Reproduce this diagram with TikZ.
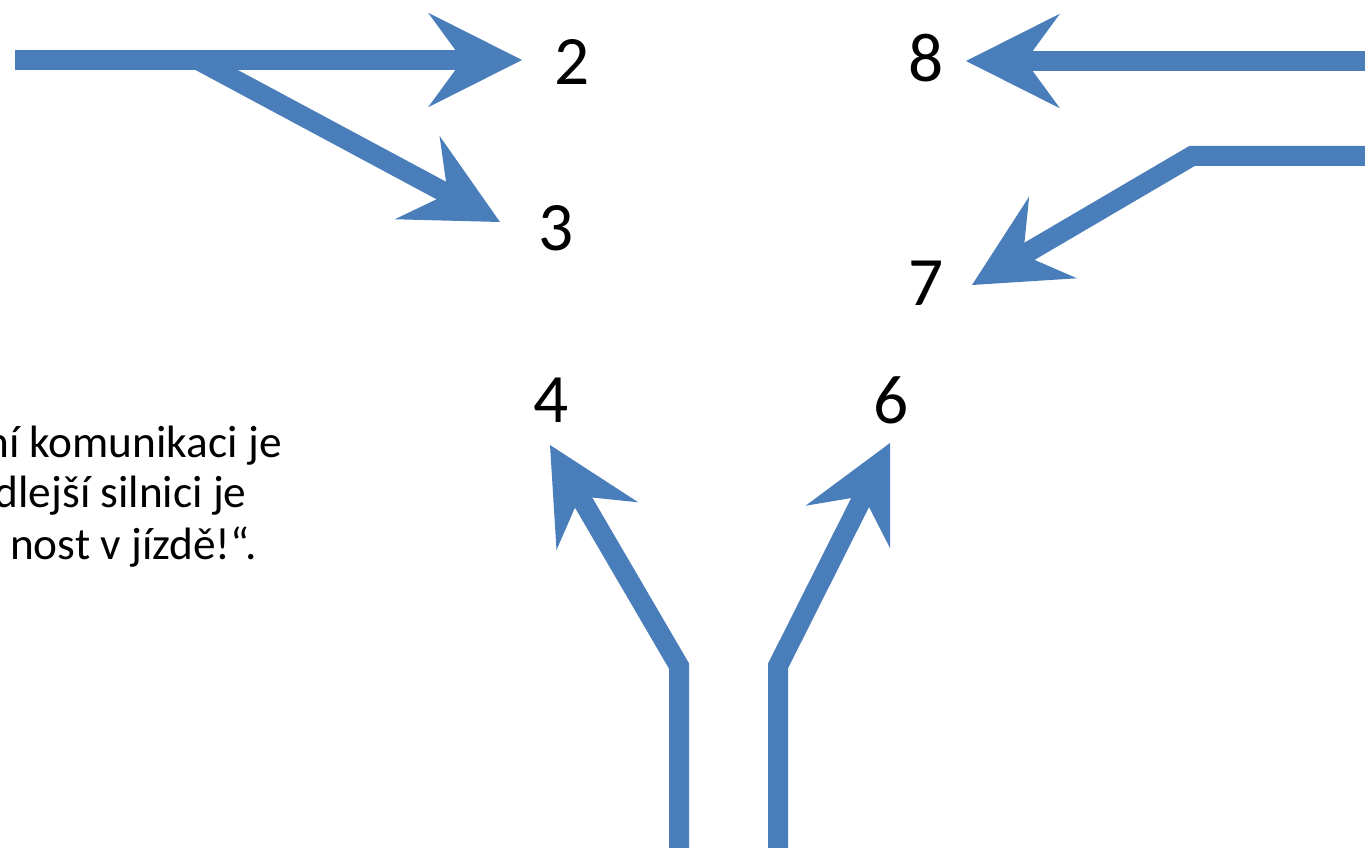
\documentclass[tikz,border=0pt]{standalone}
\usepackage{fontspec}
\setmainfont{Carlito}
\usetikzlibrary{arrows.meta}
\definecolor{roadblue}{HTML}{4A7EBB}
\tikzset{
  lane/.style={draw=roadblue, line width=15pt, line join=miter, miter limit=10,
    -{Stealth[length=70.5pt, width=71pt, inset=26pt, line width=0pt]}},
  lanenum/.style={font=\fontsize{52}{60}\selectfont, inner sep=0pt},
  note/.style={font=\fontsize{34}{40}\selectfont, inner sep=0pt, anchor=base east},
}
\begin{document}
\begin{tikzpicture}[x=0.75pt, y=-0.75pt]
\useasboundingbox (0,0) rectangle (1365,848);

% lane numbers
\node[lanenum] (n2) at (572,62) {2};
\node[lanenum] (n3) at (556,228) {3};
\node[lanenum] (n8) at (926,58) {8};
\node[lanenum] (n7) at (926,283) {7};
\node[lanenum] (n4) at (551,400) {4};
\node[lanenum] (n6) at (891,400) {6};

% start, bend and tip points of the lanes
\coordinate (w0) at (15,60);
\coordinate (wb) at (198,60);
\coordinate (t2) at (522,60);
\coordinate (t3) at (500,222);
\coordinate (e0) at (1380,61);
\coordinate (t8) at (966,61);
\coordinate (f0) at (1380,156);
\coordinate (fb) at (1192,156);
\coordinate (t7) at (972,285);
\coordinate (s4) at (679,860);
\coordinate (b4) at (679,666);
\coordinate (t4) at (550,445);
\coordinate (s6) at (778,860);
\coordinate (b6) at (778,666);
\coordinate (t6) at (890,443);

% lanes
\draw[lane] (w0) -- (t2);
\draw[lane] (wb) -- (t3);
\draw[lane] (e0) -- (t8);
\draw[lane] (f0) -- (fb) -- (t7);
\draw[lane] (s4) -- (b4) -- (t4);
\draw[lane] (s6) -- (b6) -- (t6);

% note text
\node[note] (l1) at (282,458) {ní komunikaci je};
\node[note] (l2) at (247,508) {dlejší silnici je};
\node[note] (l3) at (257,560) {nost v jízdě!“.};
\end{tikzpicture}
\end{document}
